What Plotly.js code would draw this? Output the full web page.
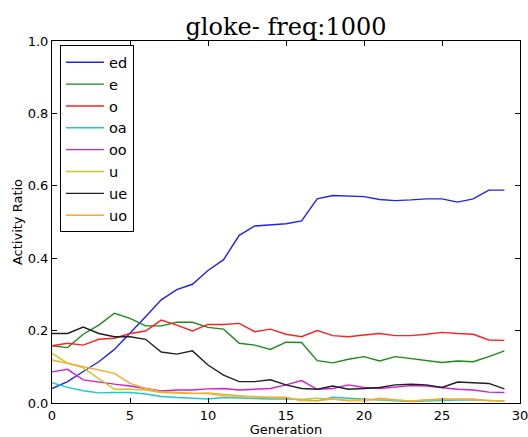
<!DOCTYPE html>
<html>
<head>
<meta charset="utf-8">
<script src="https://cdn.plot.ly/plotly-3.0.1.min.js"></script>
<style>html,body{margin:0;padding:0;background:#fff;}#chart{width:528px;height:437px;}</style>
</head>
<body>
<div id="chart"></div>
<script>
const generation = [0,1,2,3,4,5,6,7,8,9,10,11,12,13,14,15,16,17,18,19,20,21,22,23,24,25,26,27,28,29];
const ed = [0.040,0.059,0.087,0.114,0.148,0.192,0.238,0.285,0.313,0.328,0.366,0.396,0.463,0.489,0.493,0.495,0.503,0.564,0.573,0.572,0.570,0.562,0.559,0.561,0.564,0.564,0.555,0.564,0.588,0.588];
const e = [0.158,0.153,0.190,0.215,0.248,0.234,0.213,0.213,0.223,0.223,0.209,0.204,0.165,0.160,0.148,0.168,0.167,0.117,0.111,0.121,0.128,0.116,0.128,0.123,0.117,0.112,0.116,0.114,0.128,0.144];
const o = [0.158,0.165,0.160,0.176,0.179,0.192,0.199,0.229,0.215,0.199,0.217,0.217,0.220,0.197,0.204,0.190,0.183,0.200,0.186,0.183,0.188,0.192,0.186,0.186,0.190,0.195,0.192,0.190,0.174,0.173];
const oa = [0.056,0.043,0.034,0.028,0.029,0.029,0.025,0.018,0.015,0.013,0.011,0.015,0.013,0.011,0.011,0.011,0.010,0.006,0.016,0.013,0.010,0.008,0.006,0.004,0.006,0.008,0.008,0.008,0.006,0.006];
const oo = [0.086,0.093,0.064,0.057,0.052,0.047,0.040,0.033,0.036,0.036,0.039,0.040,0.036,0.037,0.040,0.050,0.062,0.038,0.040,0.050,0.043,0.040,0.043,0.048,0.047,0.042,0.038,0.036,0.030,0.029];
const u = [0.137,0.110,0.097,0.068,0.038,0.038,0.036,0.029,0.028,0.026,0.028,0.023,0.020,0.017,0.015,0.013,0.010,0.013,0.010,0.008,0.010,0.010,0.008,0.006,0.008,0.012,0.010,0.008,0.006,0.006];
const ue = [0.192,0.192,0.210,0.192,0.183,0.183,0.176,0.141,0.135,0.144,0.105,0.077,0.059,0.059,0.064,0.050,0.040,0.038,0.047,0.038,0.040,0.043,0.050,0.052,0.050,0.043,0.058,0.056,0.054,0.039];
const uo = [0.119,0.110,0.100,0.093,0.082,0.054,0.040,0.031,0.028,0.027,0.026,0.020,0.019,0.017,0.016,0.016,0.006,0.006,0.011,0.006,0.006,0.013,0.008,0.005,0.008,0.010,0.011,0.011,0.006,0.006];

const seriesNames = ["ed","e","o","oa","oo","u","ue","uo"];
const seriesData = [ed,e,o,oa,oo,u,ue,uo];
const seriesColors = ["#2020ff","#1a8c1a","#ff2020","#20c8c8","#d020d0","#c8c820","#202020","#ffa530"];

const traces = seriesNames.map((n,i)=>({
  x: generation, y: seriesData[i], name: n, type: 'scatter', mode: 'lines',
  line: {color: seriesColors[i], width: 1.4}
}));

const axisCommon = {
  showline: true, linecolor: '#000', linewidth: 1, mirror: 'ticks',
  ticks: 'inside', ticklen: 5, tickcolor: '#000', showgrid: false, zeroline: false,
  ticklabeloverflow: 'allow',
  tickfont: {family: 'DejaVu Sans', size: 13, color: '#000'}
};

const layout = {
  width: 528, height: 437,
  margin: {l: 52, r: 8, t: 41, b: 34},
  paper_bgcolor: '#fff', plot_bgcolor: '#fff',
  title: {text: 'gloke- freq:1000', font: {family: 'DejaVu Serif', size: 24, color: '#000'},
          x: 0.5, xref: 'paper', y: 0.938, yref: 'container', yanchor: 'middle'},
  xaxis: Object.assign({}, axisCommon, {range: [0, 30], tickvals: [0,5,10,15,20,25,30],
          title: {text: 'Generation', font: {family: 'DejaVu Sans', size: 13, color: '#000'}, standoff: 6}}),
  yaxis: Object.assign({}, axisCommon, {range: [0, 1], tickvals: [0,0.2,0.4,0.6,0.8,1.0], tickformat: '.1f',
          title: {text: 'Activity Ratio', font: {family: 'DejaVu Sans', size: 13, color: '#000'}, standoff: 2}}),
  showlegend: true,
  legend: {x: 0.017, y: 0.988, xanchor: 'left', yanchor: 'top', bgcolor: '#fff',
           bordercolor: '#000', borderwidth: 1, font: {family: 'DejaVu Sans', size: 14.5, color: '#000'},
           itemwidth: 38}
};

Plotly.newPlot('chart', traces, layout, {displayModeBar: false, staticPlot: true});
</script>
</body>
</html>
